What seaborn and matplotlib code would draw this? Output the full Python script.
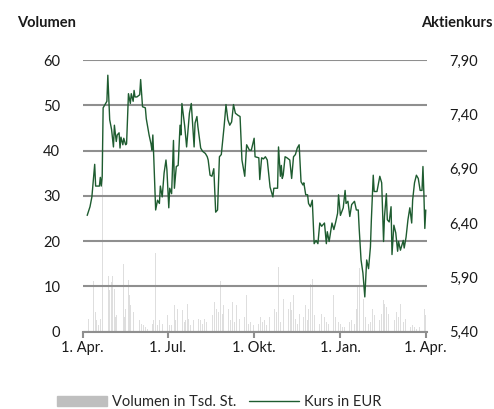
import pandas as pd
import matplotlib
matplotlib.use("Agg")
import matplotlib.pyplot as plt
import seaborn as sns

start = pd.Timestamp("2023-04-01")

# Kurs in EUR (Tage seit 1. April)
kurs_tage = [5, 8, 10, 13, 14, 18, 19, 20, 21, 22,
             24, 26, 27, 29, 31, 33, 34, 36, 37, 39,
             40, 41, 43, 44, 46, 47, 49, 51, 52, 54,
             55, 56, 58, 61, 62, 64, 67, 68, 71, 73,
             74, 75, 76, 78, 80, 82, 83, 85, 87, 89,
             90, 92, 93, 95, 97, 98, 100, 102, 104, 105,
             106, 109, 111, 114, 116, 119, 120, 122, 123, 126,
             128, 131, 133, 134, 136, 138, 140, 142, 144, 146,
             148, 151, 153, 155, 157, 159, 161, 163, 166, 168,
             170, 173, 175, 178, 180, 183, 184, 188, 189, 191,
             193, 195, 197, 200, 203, 204, 208, 209, 211, 212,
             213, 214, 216, 218, 221, 223, 225, 227, 229, 231,
             233, 235, 236, 238, 240, 241, 243, 245, 247, 249,
             251, 253, 255, 258, 260, 261, 263, 265, 266, 268,
             270, 272, 273, 275, 278, 280, 281, 283, 285, 287,
             290, 292, 294, 295, 297, 299, 301, 303, 305, 307,
             308, 310, 311, 314, 317, 319, 321, 322, 324, 325,
             327, 329, 330, 332, 334, 336, 337, 339, 342, 343,
             345, 347, 349, 351, 352, 354, 356, 358, 360, 362,
             363, 364, 365, 366]
kurs_eur = [6.47, 6.55, 6.64, 6.94, 6.74, 6.74, 6.82, 6.74, 6.83, 7.46,
            7.49, 7.52, 7.76, 7.35, 7.26, 7.10, 7.30, 7.15, 7.21, 7.23,
            7.09, 7.19, 7.12, 7.18, 7.12, 7.13, 7.59, 7.50, 7.59, 7.52,
            7.62, 7.56, 7.56, 7.58, 7.72, 7.47, 7.46, 7.36, 7.21, 7.13,
            7.07, 7.21, 7.00, 6.52, 6.61, 6.58, 6.74, 6.64, 6.86, 6.98,
            6.89, 6.54, 6.72, 6.67, 7.16, 6.72, 6.92, 6.93, 7.30, 7.21,
            7.50, 7.29, 7.10, 7.41, 7.50, 7.10, 7.32, 7.38, 7.29, 7.09,
            7.06, 7.04, 7.01, 6.98, 6.84, 6.83, 6.90, 6.50, 6.52, 7.01,
            7.03, 7.29, 7.49, 7.35, 7.30, 7.33, 7.49, 7.41, 7.39, 7.38,
            6.98, 6.83, 7.12, 7.07, 7.07, 7.18, 7.01, 7.00, 6.80, 7.00,
            6.99, 7.01, 6.98, 6.73, 6.64, 6.72, 6.72, 7.10, 6.83, 6.93,
            6.81, 6.84, 7.01, 7.00, 6.98, 6.81, 7.01, 7.03, 7.09, 7.12,
            6.78, 6.75, 6.77, 6.66, 6.66, 6.58, 6.55, 6.61, 6.21, 6.24,
            6.21, 6.40, 6.37, 6.40, 6.21, 6.32, 6.23, 6.34, 6.40, 6.34,
            6.41, 6.49, 6.66, 6.47, 6.54, 6.70, 6.58, 6.60, 6.46, 6.57,
            6.60, 6.52, 6.52, 6.35, 6.06, 5.94, 5.72, 6.06, 5.98, 6.18,
            6.43, 6.84, 6.69, 6.69, 6.83, 6.77, 6.23, 6.46, 6.67, 6.43,
            6.41, 6.55, 6.11, 6.38, 6.31, 6.14, 6.23, 6.15, 6.24, 6.17,
            6.27, 6.43, 6.54, 6.40, 6.61, 6.77, 6.84, 6.81, 6.70, 6.70,
            6.92, 6.67, 6.35, 6.52]

# Volumen in Tsd. Stueck
volumen_tage = [6, 7, 10, 12, 14, 15, 17, 19, 21, 23,
                25, 26, 28, 29, 31, 32, 34, 35, 36, 39,
                41, 42, 44, 45, 46, 49, 50, 51, 54, 55,
                56, 58, 61, 63, 65, 67, 69, 71, 73, 75,
                76, 78, 80, 82, 85, 87, 89, 91, 93, 95,
                98, 99, 101, 103, 104, 105, 107, 109, 110, 112,
                113, 115, 118, 120, 122, 124, 126, 128, 130, 132,
                135, 137, 139, 141, 143, 145, 147, 149, 150, 152,
                154, 156, 158, 160, 162, 164, 167, 169, 171, 173,
                175, 177, 179, 182, 184, 186, 188, 190, 192, 194,
                196, 199, 201, 203, 205, 207, 209, 211, 214, 216,
                218, 220, 222, 223, 225, 227, 229, 231, 233, 236,
                238, 240, 241, 243, 245, 247, 249, 251, 253, 255,
                258, 260, 262, 264, 266, 268, 270, 273, 275, 277,
                279, 281, 283, 285, 287, 290, 292, 293, 295, 297,
                300, 302, 305, 307, 309, 311, 313, 315, 317, 319,
                321, 322, 324, 326, 328, 329, 331, 333, 335, 337,
                339, 342, 344, 346, 348, 350, 352, 354, 356, 359,
                361, 363, 365, 366]
volumen_tsd = [2.9, 5.1, 4.0, 11.3, 4.4, 2.6, 1.5, 2.9, 39.0, 10.2,
               35.0, 12.4, 12.4, 9.1, 10.9, 12.4, 9.5, 3.3, 3.6, 2.2,
               4.0, 2.2, 15.0, 3.3, 5.1, 11.5, 8.0, 5.8, 4.4, 5.3,
               5.1, 1.5, 2.6, 1.8, 1.5, 1.1, 0.7, 1.5, 0.7, 1.8,
               2.6, 17.4, 1.5, 2.6, 1.8, 2.9, 4.0, 3.6, 1.5, 1.5,
               5.8, 2.6, 5.1, 6.6, 9.5, 10.6, 4.7, 2.2, 2.6, 6.2,
               2.9, 1.5, 2.6, 3.6, 2.2, 2.9, 2.6, 1.8, 2.9, 2.2,
               1.5, 2.6, 3.6, 6.6, 5.1, 4.4, 11.3, 4.0, 5.8, 17.0,
               3.6, 5.1, 2.6, 6.6, 2.2, 5.8, 2.9, 2.2, 4.0, 3.3,
               8.0, 1.8, 2.2, 1.5, 3.6, 1.1, 1.8, 3.3, 2.2, 2.6,
               1.5, 3.3, 2.2, 2.9, 5.1, 4.4, 14.2, 2.2, 7.3, 2.6,
               1.8, 5.1, 6.6, 4.7, 8.0, 2.9, 1.8, 4.0, 2.2, 3.3,
               5.8, 2.6, 5.1, 10.6, 11.7, 3.6, 2.2, 2.6, 1.8, 4.0,
               3.3, 2.2, 1.8, 4.0, 5.8, 8.0, 3.3, 2.2, 1.8, 1.1,
               1.1, 1.8, 1.1, 2.2, 2.6, 1.8, 5.1, 9.9, 14.0, 13.0,
               7.3, 3.3, 1.8, 2.2, 5.1, 3.6, 1.5, 1.8, 2.6, 4.0,
               6.9, 6.2, 5.5, 4.0, 2.9, 9.9, 4.0, 2.6, 4.4, 3.3,
               6.2, 2.2, 2.9, 1.8, 1.5, 1.1, 1.5, 1.1, 0.7, 1.1,
               1.5, 2.2, 5.1, 3.6]

x_ticks = ["2023-04-01", "2023-07-01", "2023-10-01", "2024-01-01", "2024-04-01"]
x_labels = ["1. Apr.", "1. Jul.", "1. Okt.", "1. Jan.", "1. Apr."]
vol_ticks = [0, 10, 20, 30, 40, 50, 60]
kurs_ticks = [5.40, 5.90, 6.40, 6.90, 7.40, 7.90]

df_kurs = pd.DataFrame({"datum": start + pd.to_timedelta(kurs_tage, unit="D"),
                        "kurs": kurs_eur})
df_vol = pd.DataFrame({"datum": start + pd.to_timedelta(volumen_tage, unit="D"),
                       "volumen": volumen_tsd})

sns.set_style("white")
plt.rcParams["font.family"] = ["Lato", "DejaVu Sans"]

grau = "#8f8f8f"
gruen = "#1e5c30"

fig = plt.figure(figsize=(4.94, 4.09), dpi=100)
ax = fig.add_axes([82.5 / 494, 1 - 331.7 / 409, 344.2 / 494, 271.7 / 409])
ax2 = ax.twinx()

# Volumen als duenne, helle Balken
ax.bar(df_vol["datum"], df_vol["volumen"], width=0.8, color="#dedede",
       linewidth=0, zorder=0.5)
ax.set_ylim(0, 60)
ax.set_yticks(vol_ticks)
ax.set_yticklabels([str(v) for v in vol_ticks])
ax.yaxis.grid(True, color=grau, linewidth=1.5, zorder=1)
ax.xaxis.grid(False)

# Kurslinie
sns.lineplot(data=df_kurs, x="datum", y="kurs", ax=ax2, color=gruen,
             linewidth=1.0, legend=False)
ax2.set_ylim(5.40, 7.90)
ax2.set_yticks(kurs_ticks)
ax2.set_yticklabels([f"{v:.2f}".replace(".", ",") for v in kurs_ticks])

ax.set_xlim(pd.Timestamp("2023-04-01"), pd.Timestamp("2024-04-02"))
ax.set_xticks(pd.to_datetime(x_ticks))
ax.set_xticklabels(x_labels)

for a in (ax, ax2):
    a.set_xlabel("")
    a.set_ylabel("")
    for s in a.spines.values():
        s.set_visible(False)
ax.spines["bottom"].set_visible(True)
ax.spines["bottom"].set_color(grau)
ax.spines["bottom"].set_linewidth(1.5)

ax.tick_params(axis="x", length=4, width=1.5, color=grau, labelsize=10.5,
               pad=3, bottom=True, labelcolor="#1a1a1a")
ax.tick_params(axis="y", length=0, pad=16, labelsize=10.5, labelcolor="#1a1a1a")
ax2.tick_params(axis="y", length=0, pad=16, labelsize=10.5, labelcolor="#1a1a1a")

fig.text(17 / 494, 1 - 23 / 409, "Volumen", ha="left", va="center",
         fontsize=10.5, fontweight="bold", color="#1a1a1a")
fig.text(493 / 494, 1 - 23 / 409, "Aktienkurs", ha="right", va="center",
         fontsize=10.5, fontweight="bold", color="#1a1a1a")

# Legende unten, wie im Original knapp am Rand
handles = [plt.Rectangle((0, 0), 1, 1, color="#bfbfbf"),
           plt.Line2D([0], [0], color=gruen, linewidth=1.0)]
fig.legend(handles, ["Volumen in Tsd. St.", "Kurs in EUR"], loc="center left",
           bbox_to_anchor=(57 / 494, 1 - 402 / 409), ncol=2, frameon=False,
           fontsize=10.5, handlelength=3.4, handletextpad=0.35,
           columnspacing=0.9, borderpad=0, borderaxespad=0)

fig.savefig("out.png", dpi=100)
